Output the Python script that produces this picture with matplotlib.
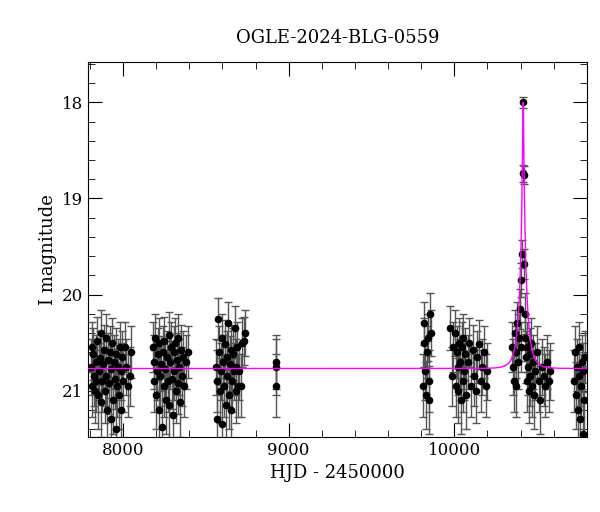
import numpy as np
import matplotlib.pyplot as plt
from matplotlib.ticker import MultipleLocator

# OGLE photometry (HJD - 2450000, I mag)
t_s1 = [7805, 7810, 7815, 7820, 7825, 7830, 7835, 7840, 7845, 7850, 7855, 7860, 7865, 7870,
        7875, 7880, 7885, 7890, 7895, 7900, 7905, 7910, 7915, 7920, 7925, 7930, 7935, 7940,
        7945, 7950, 7955, 7960, 7965, 7970, 7975, 7980, 7985, 7990, 7995, 8000, 8010, 8020,
        8030, 8040, 8050]
m_s1 = [20.75, 20.55, 20.95, 20.62, 20.85, 21.0, 20.7, 20.9, 20.48, 21.05, 20.8, 20.66, 21.12,
        20.4, 20.9, 20.72, 20.58, 21.0, 20.85, 20.45, 21.2, 20.68, 20.92, 20.6, 21.3, 20.78,
        20.5, 21.1, 20.7, 20.88, 21.4, 20.62, 20.95, 20.75, 21.05, 20.55, 20.8, 21.2, 20.65,
        20.9, 20.55, 20.75, 20.95, 20.85, 20.6]
t_s2 = [8180, 8185, 8190, 8195, 8200, 8205, 8210, 8215, 8220, 8225, 8230, 8235, 8240, 8245,
        8250, 8255, 8260, 8265, 8270, 8275, 8280, 8285, 8290, 8295, 8300, 8305, 8310, 8315,
        8320, 8325, 8330, 8335, 8340, 8345, 8350, 8355, 8360, 8370, 8380, 8390]
m_s2 = [20.55, 20.9, 20.7, 20.45, 21.05, 20.8, 20.62, 21.2, 20.5, 20.85, 20.72, 21.38, 20.6,
        20.95, 20.48, 20.78, 21.1, 20.65, 20.9, 20.42, 21.15, 20.7, 20.55, 20.88, 21.25, 20.6,
        20.8, 20.5, 21.0, 20.68, 20.45, 20.92, 20.75, 21.12, 20.58, 20.85, 20.65, 20.95, 20.7,
        20.6]
t_s3 = [8560, 8565, 8570, 8575, 8580, 8585, 8590, 8595, 8600, 8605, 8610, 8615, 8620, 8625,
        8630, 8635, 8640, 8645, 8650, 8655, 8660, 8665, 8670, 8675, 8680, 8685, 8690, 8695,
        8700, 8710, 8720, 8730, 8735]
m_s3 = [20.75, 21.3, 20.9, 20.25, 20.6, 21.0, 20.8, 20.45, 21.35, 20.7, 20.95, 20.52, 21.15,
        20.65, 20.85, 20.3, 21.05, 20.72, 20.58, 21.2, 20.9, 20.62, 20.8, 20.35, 21.0, 20.75,
        20.55, 20.95, 20.8, 20.95, 20.5, 20.48, 20.4]
t_s4 = [8925, 8925, 8925]
m_s4 = [20.7, 20.75, 20.95]
t_s5 = [9810, 9815, 9820, 9825, 9830, 9835, 9840, 9845, 9850, 9855, 9860]
m_s5 = [20.95, 20.5, 20.3, 20.8, 21.05, 20.6, 20.45, 21.1, 20.9, 20.2, 20.4]
t_s6 = [9975, 9985, 9995, 10005, 10010, 10015, 10020, 10025, 10030, 10035, 10040, 10045,
        10050, 10055, 10060, 10065, 10070, 10080, 10090, 10100, 10110, 10120, 10130, 10140,
        10150, 10160, 10170, 10180, 10190, 10200]
m_s6 = [20.35, 20.85, 20.55, 20.4, 20.95, 20.6, 20.75, 21.0, 20.5, 20.7, 21.1, 20.55, 20.9,
        20.45, 20.8, 20.62, 21.05, 20.7, 20.5, 20.95, 20.58, 20.85, 21.0, 20.65, 20.52, 20.9,
        20.75, 20.6, 20.95, 20.8]
t_s7 = [10350, 10355, 10360, 10365, 10370, 10375, 10380, 10385, 10390, 10395, 10400, 10405,
        10408, 10412, 10416, 10419, 10420, 10424, 10428, 10432, 10436, 10440, 10445, 10450,
        10455, 10460, 10465, 10470, 10475, 10480, 10490, 10500, 10510, 10520, 10530, 10540,
        10550, 10560, 10570, 10580]
m_s7 = [20.55, 20.75, 20.9, 20.4, 20.6, 20.95, 20.3, 20.7, 20.45, 20.15, 20.55, 19.85,
        19.58, 18.74, 18.0, 18.76, 19.68, 20.2, 20.45, 20.65, 20.9, 20.55, 20.75, 21.0,
        20.62, 20.85, 20.5, 20.95, 20.7, 21.05, 20.8, 20.6, 20.9, 21.1, 20.75, 20.85, 20.95,
        20.7, 20.9, 20.8]
t_s8 = [10725, 10730, 10735, 10740, 10745, 10750, 10755, 10760, 10765, 10770, 10775, 10780,
        10785, 10790]
m_s8 = [20.9, 20.6, 21.05, 20.75, 21.2, 20.85, 20.55, 21.3, 20.95, 20.7, 21.45, 20.8, 21.1,
        20.65]

# PSPL model parameters
t0 = 10416.0
u0 = 0.078
tE = 42.0
I_base = 20.77

t_obs = np.array(t_s1 + t_s2 + t_s3 + t_s4 + t_s5 + t_s6 + t_s7 + t_s8, dtype=float)
m_obs = np.array(m_s1 + m_s2 + m_s3 + m_s4 + m_s5 + m_s6 + m_s7 + m_s8, dtype=float)
# errors grow with magnitude (brighter points smaller errors)
e_obs = np.clip(0.3 * 10 ** (0.25 * (m_obs - 20.8)), 0.02, 0.45)

t_mod = np.linspace(7790, 10810, 6000)
u = np.sqrt(u0 ** 2 + ((t_mod - t0) / tE) ** 2)
A = (u ** 2 + 2) / (u * np.sqrt(u ** 2 + 4))
m_mod = I_base - 2.5 * np.log10(A)

plt.rcParams['font.family'] = 'DejaVu Serif'
fig, ax = plt.subplots(figsize=(6.0, 5.12), dpi=100)
fig.subplots_adjust(left=0.147, right=0.978, top=0.879, bottom=0.147)

ax.errorbar(t_obs, m_obs, yerr=e_obs, fmt='o', color='black', ms=4.5, ecolor='#555555',
            elinewidth=1, capsize=3, capthick=1, zorder=2)
ax.plot(t_mod, m_mod, color='magenta', lw=1, zorder=3)

ax.set_xlim(7790, 10800)
ax.set_ylim(21.48, 17.58)
ax.xaxis.set_major_locator(MultipleLocator(1000))
ax.xaxis.set_minor_locator(MultipleLocator(200))
ax.yaxis.set_major_locator(MultipleLocator(1))
ax.yaxis.set_minor_locator(MultipleLocator(0.2))
ax.tick_params(which='both', direction='in', top=True, right=True, labelsize=12)
ax.tick_params(which='major', length=10)
ax.tick_params(which='minor', length=5)

ax.set_xlabel('HJD - 2450000', fontsize=13)
ax.set_ylabel('I magnitude', fontsize=13)
ax.set_title('OGLE-2024-BLG-0559', fontsize=13, pad=14)

fig.savefig('out.png')
